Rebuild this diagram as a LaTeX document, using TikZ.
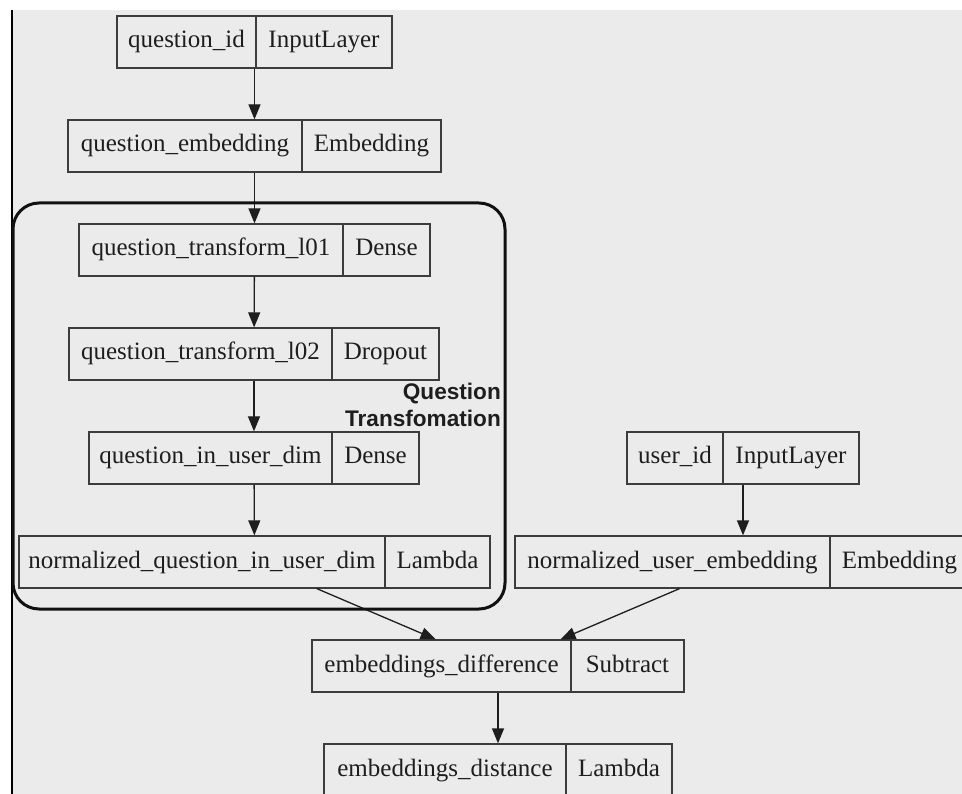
\documentclass[tikz,border=0pt]{standalone}
\usepackage{fontspec}
\setmainfont{Liberation Serif}
\newfontfamily\labelfont{Liberation Sans}
\usetikzlibrary{arrows.meta,fit}

\definecolor{canvas}{HTML}{EBEBEB}
\definecolor{boxline}{HTML}{3C3C3C}
\definecolor{edgecol}{HTML}{1E1E1E}
\definecolor{textcol}{HTML}{1E1E1E}
\definecolor{framecol}{HTML}{111111}

% one Keras layer record: name | x-left | x-divider | x-right | y-centre | layer name | layer type
\newcommand\netlayer[7]{%
  \node[cell, minimum width={#3-#2}] (#1-a) at ({(#2+#3)/2},#5) {#6};
  \node[cell, minimum width={#4-#3}] (#1-b) at ({(#3+#4)/2},#5) {#7};
  \node[record, fit=(#1-a)(#1-b)] (#1) {};
}

\begin{document}
\begin{tikzpicture}[x=1pt,y=-1pt,
  cell/.style={draw=boxline, line width=1.3pt, minimum height=52pt, inner sep=0pt,
    text height=18pt, text depth=6pt,
    font=\fontsize{25}{30}\selectfont, text=textcol},
  record/.style={inner sep=0pt, outer sep=0pt, draw=none},
  flow/.style={draw=edgecol, line width=1.3pt,
    -{Triangle[length=15pt,width=12pt,fill=edgecol]}},
  groupframe/.style={draw=framecol, line width=3pt, rounded corners=26pt},
  grouplabel/.style={font=\labelfont\bfseries\fontsize{22.6}{27}\selectfont,
    text=textcol, inner sep=0pt, anchor=base east},
]
\useasboundingbox (0,0) rectangle (962,794);
\begin{scope}
  \clip (0,0) rectangle (962,794);
  \fill[canvas] (11,10) rectangle (962,794);
  \draw[black, line width=2.5pt] (12,10) -- (12,794);

  \netlayer{qid}{117}{256}{392}{42}{question\_id}{InputLayer}
  \netlayer{qemb}{68}{302}{441}{146}{question\_embedding}{Embedding}
  \netlayer{qtone}{79}{343}{430}{250}{question\_transform\_l01}{Dense}
  \netlayer{qttwo}{69}{332}{439}{354}{question\_transform\_l02}{Dropout}
  \netlayer{qdim}{89}{332}{419}{458}{question\_in\_user\_dim}{Dense}
  \netlayer{nq}{19}{385}{490}{562}{normalized\_question\_in\_user\_dim}{Lambda}
  \netlayer{uid}{627}{723}{859}{458}{user\_id}{InputLayer}
  \netlayer{nu}{515}{830}{969}{562}{normalized\_user\_embedding}{Embedding}
  \netlayer{diff}{312}{571}{684}{666}{embeddings\_difference}{Subtract}
  \netlayer{dist}{324}{566}{672}{770}{embeddings\_distance}{Lambda}

  \draw[flow] (qid) -- (qemb);
  \draw[flow] (qemb) -- (qtone);
  \draw[flow] (qtone) -- (qttwo);
  \draw[flow] (qttwo) -- (qdim);
  \draw[flow] (qdim) -- (nq);
  \draw[flow] (uid.south) -- (uid.south |- nu.north);
  \draw[flow] (nq) -- (diff);
  \draw[flow] (nu) -- (diff);
  \draw[flow] (diff) -- (dist);

  % question transformation group
  \draw[groupframe] (13,203) rectangle (505,609);
  \node[grouplabel] (grouptop) at (501,400) {Question};
  \node[grouplabel] (groupbottom) at (501,427) {Transfomation};
\end{scope}
\end{tikzpicture}
\end{document}
